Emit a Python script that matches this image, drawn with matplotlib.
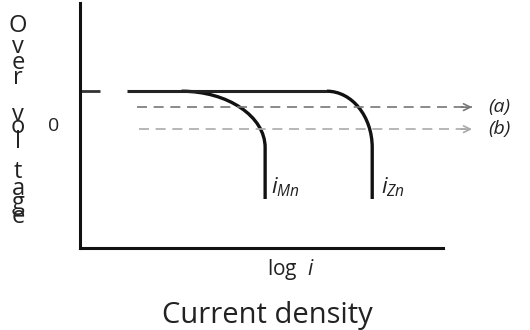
import matplotlib.pyplot as plt
from matplotlib.path import Path
from matplotlib.patches import PathPatch

plt.rcParams["font.family"] = ["Open Sans", "DejaVu Sans"]
plt.rcParams["mathtext.fontset"] = "custom"
plt.rcParams["mathtext.it"] = "Open Sans:italic"
plt.rcParams["mathtext.rm"] = "Open Sans"

# schematic curves, in arbitrary units (x: log i, y: overvoltage)
plateau_y = 6.4
plateau_x = [1.3, 6.8]
zn_curve_x = [6.8, 7.49, 8.05, 8.05, 8.05]
zn_curve_y = [6.4, 6.4, 5.37, 4.1, 2.0]
mn_curve_x = [2.8, 4.07, 5.1, 5.1, 5.1]
mn_curve_y = [6.4, 6.4, 5.37, 4.1, 2.0]
tick_x = [0.0, 0.55]

line_a_x = [1.57, 10.8]
line_a_y = 5.75
line_b_x = [1.63, 10.8]
line_b_y = 4.85

ylabel_letters = ["O", "v", "e", "r", "v", "o", "l", "t", "a", "g", "e"]
ylabel_pos = [26, 47, 63, 78, 115, 127, 142, 172, 189, 203, 217]

INK = "#111111"
TEXT = "#222222"

fig = plt.figure(figsize=(5.3, 3.3), dpi=100, facecolor="white")
ax = fig.add_axes([80 / 530, (330 - 248) / 330, 363 / 530, 245 / 330])
ax.set_xlim(0, 10)
ax.set_ylim(0, 10)
ax.set_xticks([])
ax.set_yticks([])
ax.spines[["top", "right"]].set_visible(False)
ax.spines[["left", "bottom"]].set_linewidth(2.2)
ax.spines[["left", "bottom"]].set_color(INK)

# y tick stub and plateau
ax.plot(tick_x, [plateau_y] * 2, color="#333333", lw=2.0, solid_capstyle="butt", clip_on=False)
ax.plot(plateau_x, [plateau_y] * 2, color="#222222", lw=2.2, solid_capstyle="butt")

codes = [Path.MOVETO, Path.CURVE4, Path.CURVE4, Path.CURVE4, Path.LINETO]
for xs, ys in ((zn_curve_x, zn_curve_y), (mn_curve_x, mn_curve_y)):
    p = Path(list(zip(xs, ys)), codes)
    ax.add_patch(PathPatch(p, fill=False, edgecolor=INK, lw=2.4, capstyle="butt"))

# dashed operating lines
for xs, y, col, lab in ((line_a_x, line_a_y, "#777777", "(a)"),
                        (line_b_x, line_b_y, "#aaaaaa", "(b)")):
    ax.plot(xs, [y, y], color=col, lw=1.2, dashes=(6, 4), clip_on=False)
    ax.annotate("", xy=(xs[1], y), xytext=(xs[1] - 0.3, y),
                arrowprops=dict(arrowstyle="->", color=col, lw=1.2,
                                mutation_scale=12, shrinkA=0, shrinkB=0),
                annotation_clip=False)
    ax.text(xs[1] + 0.45, y, lab, fontsize=14, style="italic", color=TEXT,
            va="center", ha="left", clip_on=False)

ax.text(mn_curve_x[-1] + 0.15, 2.5, r"$i_{Mn}$", fontsize=16, color=TEXT,
        ha="left", va="center")
ax.text(zn_curve_x[-1] + 0.25, 2.5, r"$i_{Zn}$", fontsize=16, color=TEXT,
        ha="left", va="center")

for ch, py in zip(ylabel_letters, ylabel_pos):
    fig.text(18 / 530, 1 - py / 330, ch, fontsize=17, color=TEXT,
             ha="center", va="center")
fig.text(54 / 530, 1 - 126 / 330, "0", fontsize=14, color=TEXT,
         ha="center", va="center")

fig.text(291 / 530, 1 - 270 / 330, "log  $i$", fontsize=15, color=TEXT,
         ha="center", va="center")
fig.text(267 / 530, 1 - 316 / 330, "Current density", fontsize=21, color=TEXT,
         ha="center", va="center")

fig.savefig("out.png", dpi=100, facecolor="white")
